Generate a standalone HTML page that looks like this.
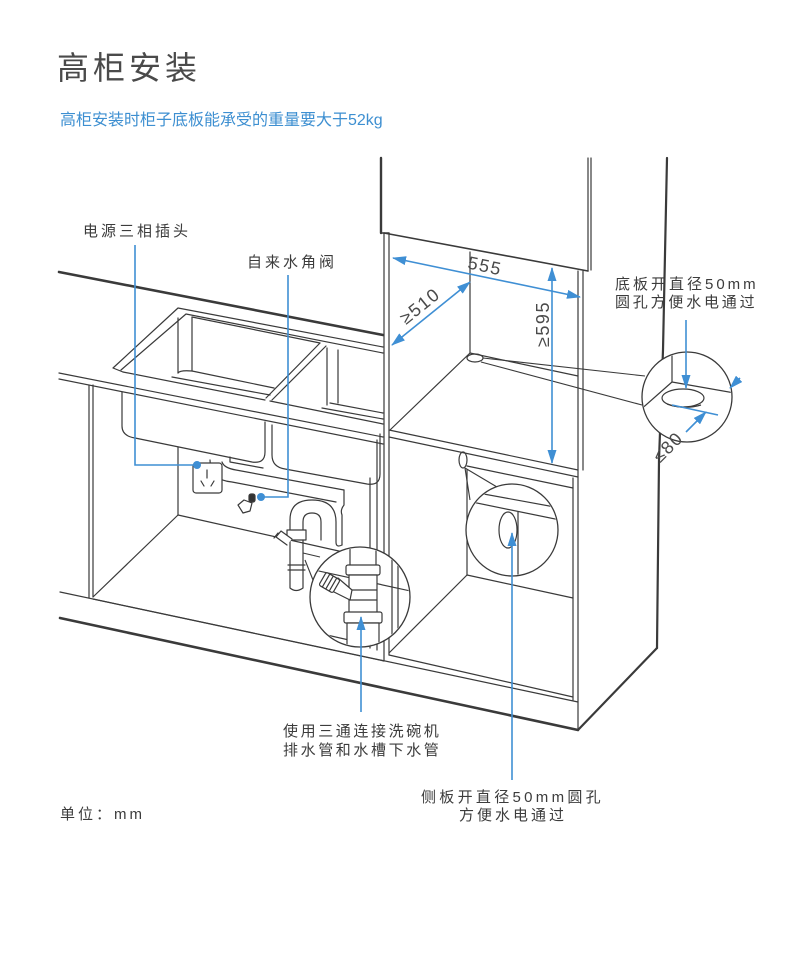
<!DOCTYPE html>
<html>
<head>
<meta charset="utf-8">
<style>
html,body{margin:0;padding:0;background:#fff;}
body{width:790px;height:964px;overflow:hidden;position:relative;}
svg{position:absolute;left:0;top:0;}
.t{font-family:"Liberation Sans","Noto Sans CJK SC",sans-serif;}
</style>
</head>
<body>
<svg width="790" height="964" viewBox="0 0 790 964" xmlns="http://www.w3.org/2000/svg">
<defs>
  <marker id="ah" viewBox="0 0 14 9" refX="13" refY="4.5" markerWidth="14" markerHeight="9" markerUnits="userSpaceOnUse" orient="auto-start-reverse">
    <path d="M0,0 L14,4.5 L0,9 z" fill="#3f8fd4"/>
  </marker>
  <clipPath id="c1"><circle cx="360" cy="597" r="49"/></clipPath>
  <clipPath id="c2"><circle cx="512" cy="530" r="45"/></clipPath>
  <clipPath id="c3"><circle cx="687" cy="397" r="44"/></clipPath>
</defs>

<!-- Title -->
<text class="t" x="57" y="79" font-size="32" fill="#4a4a4a" style="letter-spacing:4px">高柜安装</text>
<text class="t" x="60" y="125" font-size="16" fill="#3d8fd1">高柜安装时柜子底板能承受的重量要大于52kg</text>

<g stroke="#3a3a3a" stroke-width="1.2" fill="none" stroke-linecap="round" stroke-linejoin="round">
  <!-- wall cabinet bottom -->
  <line x1="59" y1="272" x2="383" y2="335" stroke-width="2.6"/>
  <!-- tall cabinet left edges -->
  <line x1="381" y1="158" x2="381" y2="233" stroke-width="2.4"/>
  <line x1="381" y1="233" x2="389" y2="233" stroke-width="1.5"/>
  <line x1="384" y1="233" x2="384" y2="661"/>
  <line x1="389" y1="233" x2="389" y2="655"/>
  <!-- upper door -->
  <line x1="384" y1="233" x2="588" y2="271" stroke-width="1.6"/>
  <line x1="588" y1="158" x2="588" y2="271"/>
  <line x1="591" y1="158" x2="591" y2="270"/>
  <!-- right side -->
  <polyline points="667,158 663,350 659,460 657,648" stroke-width="2.2"/>
  <line x1="578" y1="730" x2="657" y2="648" stroke-width="2.2"/>
  <!-- inner right verticals -->
  <line x1="578" y1="271" x2="578" y2="730"/>
  <line x1="583" y1="271" x2="583" y2="470"/>
  <line x1="573" y1="478" x2="573" y2="700"/>
  <!-- upper compartment -->
  <line x1="470" y1="252" x2="470" y2="353"/>
  <line x1="470" y1="353" x2="390" y2="430"/>
  <line x1="470" y1="353" x2="578" y2="376"/>
  <line x1="389" y1="430" x2="578" y2="470"/>
  <line x1="389" y1="437" x2="578" y2="477"/>
  <ellipse cx="475" cy="358" rx="8" ry="4"/>
  <!-- lower compartment -->
  <line x1="467" y1="470" x2="467" y2="575"/>
  <line x1="467" y1="466" x2="573" y2="488"/>
  <line x1="467" y1="575" x2="389" y2="653"/>
  <line x1="467" y1="575" x2="573" y2="598"/>
  <ellipse cx="463" cy="460" rx="4" ry="8"/>
  <!-- plinth -->
  <line x1="60" y1="592" x2="578" y2="702"/>
  <line x1="93" y1="599" x2="384" y2="661"/>
  <line x1="389" y1="655" x2="573" y2="697"/>
  <line x1="60" y1="618" x2="578" y2="730" stroke-width="2.6"/>
  <!-- base cabinet -->
  <line x1="89" y1="385" x2="89" y2="598"/>
  <line x1="93" y1="385" x2="93" y2="597"/>
  <line x1="178" y1="447" x2="178" y2="515"/>
  <line x1="178" y1="515" x2="93" y2="597"/>
  <line x1="178" y1="515" x2="370" y2="558"/>
  <line x1="370" y1="478" x2="370" y2="648"/>
  <line x1="377" y1="440" x2="377" y2="650"/>
  <!-- countertop -->
  <line x1="59" y1="373" x2="383" y2="437"/>
  <line x1="59" y1="379" x2="383" y2="444"/>
  <!-- sink rim -->
  <polyline points="383,347 178,308 113,368 123,372"/>
  <polyline points="383,353 186,314 121,370"/>
  <line x1="123" y1="372" x2="265" y2="400"/>
  <line x1="270" y1="401" x2="383" y2="424"/>
  <!-- bowl 1 -->
  <line x1="178" y1="318" x2="178" y2="373"/>
  <line x1="192" y1="317" x2="192" y2="371"/>
  <line x1="192" y1="317" x2="320" y2="343"/>
  <path d="M172,377 L270,395"/>
  <path d="M178,373 Q180,370 192,371 L274,388"/>
  <!-- divider -->
  <line x1="320" y1="343" x2="266" y2="398"/>
  <line x1="326" y1="346" x2="272" y2="400"/>
  <!-- bowl 2 -->
  <line x1="327" y1="348" x2="327" y2="405"/>
  <line x1="338" y1="350" x2="338" y2="403"/>
  <line x1="322" y1="408" x2="383" y2="419"/>
  <line x1="330" y1="403" x2="383" y2="413"/>
  <!-- under counter bowls -->
  <path d="M122,392 L122,426 Q122,436 135,438 L252,462 Q265,464 265,452 L265,422"/>
  <path d="M272,425 L272,455 Q272,467 285,469 L367,484 Q380,486 380,474 L380,434"/>
  <path d="M230,457 L230,462 L263,468"/>
  <!-- drain pipe -->
  <path d="M210,460 Q210,480 232,482 L336,502"/>
  <path d="M222,462 Q224,468 236,470 L344,490"/>
  <path d="M344,490 L344,505 Q340,510 342,515 L342,545"/>
  <!-- trap -->
  <path d="M290,530 L290,520 Q290,500 312,500 Q336,500 336,522 L336,542 Q336,548 342,545"/>
  <path d="M303,530 L303,522 Q303,513 312,513 Q321,513 321,522 L321,540"/>
  <rect x="287" y="530" width="19" height="10" fill="#fff"/>
  <path d="M290,540 L290,588 Q296,593 303,588 L303,540"/>
  <line x1="288" y1="565" x2="305" y2="565"/>
  <line x1="288" y1="570" x2="305" y2="570"/>
  <path d="M287,545 L276,537 L281,531 L292,539" fill="#fff"/>
  <line x1="278" y1="533" x2="274" y2="538"/>
  <!-- socket -->
  <rect x="193" y="463" width="29" height="30" rx="3" fill="#fff"/>
  <line x1="207" y1="470" x2="207" y2="478"/>
  <line x1="201" y1="481" x2="204" y2="486"/>
  <line x1="214" y1="481" x2="211" y2="486"/>
  <!-- valve -->
  <path d="M238,505 L244,500 L252,503 L250,511 L243,513 Z" fill="#fff"/>
  <rect x="249" y="494" width="6" height="8" rx="2" fill="#333"/>
</g>

<!-- callout tails -->
<g stroke="#3a3a3a" stroke-width="1.1" fill="none">
  <line x1="483" y1="358" x2="645" y2="376"/>
  <line x1="481" y1="362" x2="642" y2="405"/>
  <line x1="465" y1="468" x2="470" y2="500"/>
  <line x1="465" y1="468" x2="497" y2="487"/>
  <line x1="303" y1="553" x2="320" y2="557"/>
  <line x1="305" y1="560" x2="313" y2="580"/>
</g>

<!-- magnifier circles -->
<g stroke="#3a3a3a" stroke-width="1.3" fill="#fff">
  <circle cx="360" cy="597" r="50"/>
  <circle cx="512" cy="530" r="46"/>
  <circle cx="687" cy="397" r="45"/>
</g>

<!-- magnifier 1 content -->
<g clip-path="url(#c1)" stroke="#3a3a3a" stroke-width="1.2" fill="#fff" stroke-linejoin="round">
  <line x1="305" y1="568" x2="415" y2="592" fill="none"/>
  <line x1="305" y1="630" x2="415" y2="655" fill="none"/>
  <line x1="392" y1="540" x2="392" y2="650" fill="none"/>
  <line x1="398" y1="540" x2="398" y2="650" fill="none"/>
  <rect x="350" y="540" width="26" height="30"/>
  <rect x="346" y="565" width="34" height="10" rx="2"/>
  <rect x="349" y="575" width="28" height="38"/>
  <line x1="349" y1="590" x2="377" y2="590"/>
  <line x1="349" y1="600" x2="377" y2="600"/>
  <rect x="344" y="612" width="38" height="11" rx="2"/>
  <rect x="347" y="623" width="32" height="30"/>
  <path d="M350,600 L330,590 L338,578 L352,590 Z"/>
  <g transform="translate(331,584) rotate(30)">
    <rect x="-10" y="-8" width="16" height="15" rx="2"/>
    <line x1="-6" y1="-8" x2="-6" y2="7"/>
    <line x1="-2" y1="-8" x2="-2" y2="7"/>
    <line x1="2" y1="-8" x2="2" y2="7"/>
  </g>
</g>

<!-- magnifier 2 content -->
<g clip-path="url(#c2)" stroke="#3a3a3a" stroke-width="1.2" fill="none">
  <line x1="462" y1="490" x2="560" y2="508"/>
  <line x1="462" y1="500" x2="560" y2="520"/>
  <line x1="518" y1="512" x2="518" y2="580"/>
  <ellipse cx="508" cy="530" rx="9" ry="18"/>
</g>

<!-- magnifier 3 content -->
<g clip-path="url(#c3)" stroke="#3a3a3a" stroke-width="1.2" fill="none">
  <line x1="672" y1="345" x2="672" y2="382"/>
  <line x1="672" y1="382" x2="740" y2="394"/>
  <line x1="672" y1="382" x2="638" y2="412"/>
  <ellipse cx="683" cy="398" rx="21" ry="9"/>
  <path d="M667,404 Q684,410 701,405"/>
</g>

<!-- blue annotations -->
<g stroke="#3f8fd4" stroke-width="1.6" fill="none">
  <polyline points="135,245 135,465 197,465"/>
  <polyline points="288,275 288,497 261,497"/>
  <line x1="393" y1="258" x2="580" y2="297" marker-start="url(#ah)" marker-end="url(#ah)"/>
  <line x1="392" y1="345" x2="470" y2="282" marker-start="url(#ah)" marker-end="url(#ah)"/>
  <line x1="552" y1="268" x2="552" y2="463" marker-start="url(#ah)" marker-end="url(#ah)"/>
  <line x1="686" y1="320" x2="686" y2="388" marker-end="url(#ah)"/>
  <line x1="672" y1="405" x2="718" y2="415"/>
  <line x1="686" y1="432" x2="706" y2="412" marker-end="url(#ah)"/>
  <line x1="740" y1="378" x2="730" y2="388" marker-end="url(#ah)"/>
  <line x1="361" y1="712" x2="361" y2="617" marker-end="url(#ah)"/>
  <line x1="512" y1="780" x2="512" y2="533" marker-end="url(#ah)"/>
</g>
<g fill="#3f8fd4">
  <circle cx="197" cy="465" r="4"/>
  <circle cx="261" cy="497" r="4"/>
</g>

<!-- dimension texts -->
<g class="t" font-size="18" fill="#4a4a4a" text-anchor="middle" dominant-baseline="central" style="letter-spacing:1.5px">
  <text transform="translate(485,266) rotate(12)">555</text>
  <text transform="translate(420,306) rotate(-39)">≥510</text>
  <text transform="translate(543,324) rotate(-90)">≥595</text>
  <text transform="translate(668,447) rotate(-45)">≤80</text>
</g>

<!-- labels -->
<g class="t" font-size="15" fill="#3c3c3c" style="letter-spacing:2.6px">
  <text x="83" y="236" style="letter-spacing:3px">电源三相插头</text>
  <text x="247" y="267" style="letter-spacing:3px">自来水角阀</text>
  <text x="615" y="289" style="letter-spacing:3px">底板开直径50mm</text>
  <text x="615" y="307" style="letter-spacing:2.8px">圆孔方便水电通过</text>
  <text x="283" y="736">使用三通连接洗碗机</text>
  <text x="283" y="755">排水管和水槽下水管</text>
  <text x="421" y="802" style="letter-spacing:3.3px">侧板开直径50mm圆孔</text>
  <text x="459" y="820" style="letter-spacing:3px">方便水电通过</text>
  <text x="60" y="819" style="letter-spacing:3px">单位：mm</text>
</g>
</svg>
</body>
</html>
